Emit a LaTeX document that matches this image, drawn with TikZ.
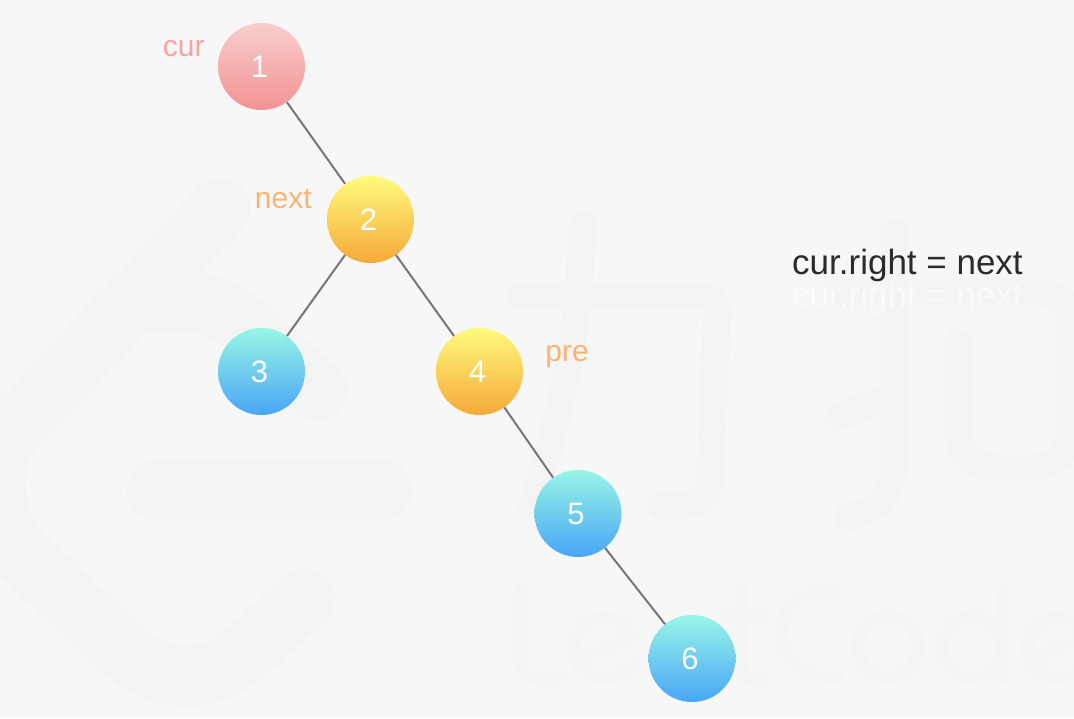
\documentclass[tikz,border=0pt]{standalone}
\usepackage{fontspec}
\setmainfont{Liberation Sans}
\usetikzlibrary{positioning}
\definecolor{bgc}{HTML}{F7F7F7}
\definecolor{wmc}{HTML}{F4F4F4}
\definecolor{wmlc}{HTML}{F5F5F5}
\definecolor{lnc}{HTML}{767676}
\definecolor{curc}{HTML}{F9A3A3}
\definecolor{ptrc}{HTML}{F6B673}
\definecolor{txtc}{HTML}{2B2B2B}
\definecolor{redtop}{HTML}{F9CDCD}
\definecolor{redbot}{HTML}{F29393}
\definecolor{yeltop}{HTML}{FFFB7C}
\definecolor{yelbot}{HTML}{F5A938}
\definecolor{blutop}{HTML}{97F6E6}
\definecolor{blubot}{HTML}{49A5F6}

\begin{document}
\begin{tikzpicture}[
  x=1pt, y=-1pt,
  nd/.style={circle, minimum size=87pt, inner sep=0pt, text=white,
             font=\fontsize{31}{36}\selectfont,
             execute at begin node=\hspace*{-4pt}},
  ndred/.style={nd, top color=redtop, bottom color=redbot},
  ndyel/.style={nd, top color=yeltop, bottom color=yelbot},
  ndblu/.style={nd, top color=blutop, bottom color=blubot},
  ar/.style={draw=lnc, line width=2pt},
  lb/.style={inner sep=0pt, font=\fontsize{30}{36}\selectfont},
  cd/.style={inner sep=0pt, font=\fontsize{35}{40}\selectfont, anchor=base west},
  wm/.style={draw=wmc, line width=60pt, line cap=round, line join=round},
  wmh/.style={draw=wmc, line width=27pt, line cap=round, line join=round},
  wml/.style={draw=wmlc, line width=13pt, line cap=round, line join=round}
]
  \fill[bgc] (0,0) rectangle (1074,718);
  \useasboundingbox (0,0) rectangle (1074,718);

  \begin{scope}
    \clip (0,0) rectangle (1074,718);
    % logo
    \draw[wm] (220,208) -- (8,435) .. controls (-12,458) and (-10,520) .. (20,553)
      -- (124,651) .. controls (160,685) and (210,685) .. (250,649) -- (305,598);
    \draw[wm] (135,306) .. controls (170,298) and (210,298) .. (241,323) -- (317,390);
    \draw[wm] (157,490) -- (381,490);
    % chinese strokes
    \draw[wmh] (583,223) -- (579,283) .. controls (573,350) and (560,420) .. (531,508);
    \draw[wmh] (520,296) -- (700,296) .. controls (712,296) and (717,303) .. (717,313)
      -- (710,480) .. controls (709,497) and (700,505) .. (688,505) -- (660,505);
    \draw[wmh] (894,232) -- (894,460) .. controls (894,495) and (875,513) .. (848,517);
    \draw[wmh] (838,417) -- (881,400);
    \draw[wmh] (836,292) -- (1040,292) .. controls (1060,292) and (1070,305) .. (1070,325)
      -- (1070,430) .. controls (1070,455) and (1050,468) .. (1030,468) -- (1000,468)
      .. controls (975,468) and (958,455) .. (958,430) -- (958,343);
    % word
    \draw[wml] (520,590) -- (520,660) .. controls (520,672) and (526,678) .. (538,678) -- (560,678);
    \draw[wml] (578,660) -- (633,636) .. controls (625,622) and (615,618) .. (603,618)
      .. controls (585,618) and (574,632) .. (574,648)
      .. controls (574,665) and (588,677) .. (605,677)
      .. controls (618,677) and (628,672) .. (633,664);
    \draw[wml] (741,590) -- (741,662) .. controls (741,674) and (747,680) .. (762,680);
    \draw[wml] (725,617) -- (762,617);
    \draw[wml] (836,590) -- (830,590) .. controls (800,590) and (781,610) .. (781,633)
      .. controls (781,658) and (800,677) .. (830,677) -- (836,677);
    \draw[wml] (888,647) circle[radius=30pt];
    \draw[wml] (972,647) circle[radius=30pt];
    \draw[wml] (1002,590) -- (1002,677);
    \draw[wml] (1031,660) -- (1086,636) .. controls (1078,622) and (1068,618) .. (1056,618)
      .. controls (1038,618) and (1027,632) .. (1027,648)
      .. controls (1027,665) and (1041,677) .. (1058,677)
      .. controls (1071,677) and (1081,672) .. (1086,664);
  \end{scope}

  \node[ndred] (n1) at (261.5,66.5) {1};
  \node[ndyel] (n2) at (370.5,219.5) {2};
  \node[ndblu] (n3) at (261.5,371.5) {3};
  \node[ndyel] (n4) at (479.5,371.5) {4};
  \node[ndblu] (n5) at (578,513.5) {5};
  \node[ndblu] (n6) at (692,658.5) {6};

  \draw[ar] (n1)--(n2);
  \draw[ar] (n2)--(n3);
  \draw[ar] (n2)--(n4);
  \draw[ar] (n4)--(n5);
  \draw[ar] (n5)--(n6);

  \node[lb, text=curc, left=13pt of n1, yshift=18pt] (lcur) {cur};
  \node[lb, text=ptrc, left=15pt of n2, yshift=21pt] (lnext) {next};
  \node[lb, text=ptrc, right=22pt of n4, yshift=15pt] (lpre) {pre};

  \node[cd, text=txtc] (code) at (792,274) {cur.right = next};
  \node[cd, text=white, opacity=.55] (codeb) at (792,307) {cur.right = next};
\end{tikzpicture}
\end{document}
